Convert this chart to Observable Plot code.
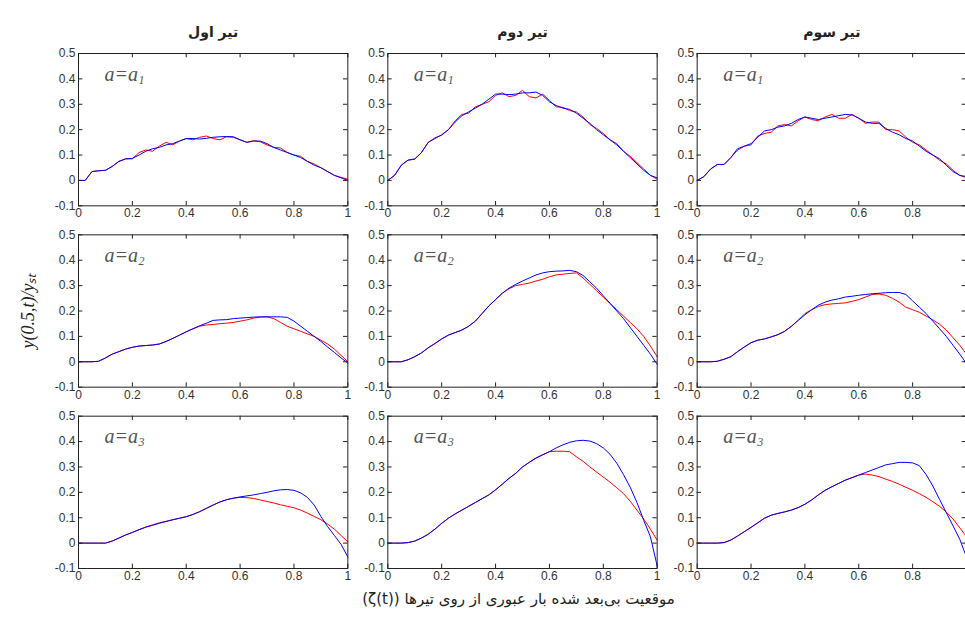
<!DOCTYPE html>
<html><head><meta charset="utf-8">
<script src="https://cdn.jsdelivr.net/npm/d3@7"></script>
<script src="https://cdn.jsdelivr.net/npm/@observablehq/plot@0.6"></script>
<style>
html,body{margin:0;padding:0;background:#fff;}
#chart{width:965px;height:617px;overflow:hidden;}
</style></head><body><div id="chart"></div>
<script>
const beams = ["تیر اول", "تیر دوم", "تیر سوم"];
const cases = ["a1", "a2", "a3"];
const caseSub = ["1", "2", "3"];
const xLabel = "موقعیت بی‌بعد شده بار عبوری از روی تیرها (ζ(t))";
const yLabel = "y(0.5,t)/yₛₜ";
const xTicks = [0, 0.2, 0.4, 0.6, 0.8, 1];
const xTickLabels = ["0", "0.2", "0.4", "0.6", "0.8", "1"];
const yTicks = [-0.1, 0, 0.1, 0.2, 0.3, 0.4, 0.5];
const yTickLabels = ["-0.1", "0", "0.1", "0.2", "0.3", "0.4", "0.5"];

const zeta = [0,0.025,0.05,0.075,0.1,0.125,0.15,0.175,0.2,0.225,0.25,0.275,0.3,0.325,0.35,0.375,0.4,0.425,0.45,0.475,0.5,0.525,0.55,0.575,0.6,0.625,0.65,0.675,0.7,0.725,0.75,0.775,0.8,0.825,0.85,0.875,0.9,0.925,0.95,0.975,1];

// row a1
const blueB1A1 = [0,0,0.035,0.038,0.04,0.055,0.075,0.085,0.087,0.1,0.115,0.125,0.13,0.14,0.145,0.155,0.165,0.165,0.163,0.166,0.17,0.172,0.173,0.172,0.16,0.15,0.155,0.155,0.145,0.13,0.12,0.11,0.1,0.09,0.075,0.06,0.05,0.035,0.02,0.01,0];
const redB1A1  = [0,0,0.035,0.038,0.04,0.055,0.075,0.085,0.085,0.11,0.12,0.115,0.135,0.15,0.14,0.155,0.165,0.16,0.17,0.175,0.165,0.16,0.172,0.17,0.16,0.15,0.157,0.152,0.14,0.13,0.128,0.11,0.1,0.095,0.075,0.065,0.05,0.035,0.02,0.012,0.005];
const blueB2A1 = [0,0.02,0.06,0.08,0.085,0.11,0.15,0.165,0.18,0.2,0.23,0.255,0.27,0.285,0.3,0.32,0.34,0.34,0.338,0.34,0.345,0.345,0.348,0.335,0.31,0.295,0.285,0.28,0.265,0.245,0.225,0.2,0.18,0.16,0.14,0.115,0.09,0.065,0.04,0.02,0.01];
const redB2A1  = [0,0.02,0.06,0.08,0.083,0.11,0.15,0.168,0.178,0.2,0.235,0.26,0.265,0.29,0.3,0.31,0.335,0.345,0.33,0.335,0.355,0.33,0.325,0.34,0.315,0.29,0.288,0.275,0.27,0.25,0.22,0.205,0.185,0.16,0.145,0.115,0.095,0.07,0.045,0.02,0.005];
const blueB3A1 = [0,0.015,0.045,0.063,0.063,0.09,0.125,0.135,0.145,0.17,0.195,0.2,0.21,0.215,0.225,0.24,0.25,0.245,0.24,0.245,0.25,0.255,0.26,0.258,0.245,0.23,0.225,0.225,0.205,0.19,0.18,0.165,0.155,0.135,0.115,0.1,0.085,0.06,0.035,0.02,0.015];
const redB3A1  = [0,0.015,0.045,0.063,0.063,0.09,0.12,0.135,0.14,0.175,0.185,0.19,0.215,0.22,0.215,0.235,0.25,0.24,0.235,0.25,0.26,0.245,0.245,0.26,0.245,0.225,0.23,0.23,0.2,0.2,0.195,0.17,0.15,0.14,0.12,0.1,0.08,0.065,0.04,0.02,0.01];
// row a2
const blueB1A2 = [0,0,0,0.002,0.015,0.03,0.04,0.05,0.057,0.062,0.064,0.066,0.07,0.08,0.092,0.105,0.118,0.13,0.142,0.152,0.163,0.165,0.166,0.17,0.172,0.174,0.176,0.177,0.177,0.177,0.177,0.175,0.16,0.14,0.12,0.1,0.08,0.058,0.037,0.015,-0.005];
const redB1A2  = [0,0,0,0.002,0.015,0.03,0.04,0.05,0.057,0.062,0.064,0.066,0.07,0.08,0.092,0.105,0.118,0.13,0.14,0.145,0.147,0.15,0.152,0.155,0.16,0.165,0.172,0.176,0.177,0.17,0.155,0.14,0.13,0.12,0.11,0.1,0.085,0.07,0.05,0.025,0];
const blueB2A2 = [0,0,0,0.008,0.02,0.035,0.055,0.072,0.09,0.105,0.115,0.125,0.14,0.16,0.19,0.22,0.245,0.27,0.29,0.305,0.318,0.33,0.342,0.35,0.355,0.357,0.358,0.36,0.355,0.34,0.315,0.29,0.26,0.23,0.2,0.17,0.135,0.1,0.065,0.03,-0.01];
const redB2A2  = [0,0,0,0.008,0.02,0.035,0.055,0.072,0.09,0.105,0.115,0.125,0.14,0.16,0.19,0.22,0.245,0.27,0.288,0.3,0.305,0.31,0.318,0.325,0.335,0.342,0.345,0.348,0.35,0.33,0.305,0.28,0.255,0.23,0.205,0.18,0.155,0.13,0.1,0.062,0.02];
const blueB3A2 = [0,0,0,0.002,0.01,0.02,0.04,0.058,0.075,0.085,0.09,0.098,0.107,0.12,0.14,0.163,0.185,0.205,0.223,0.235,0.243,0.248,0.255,0.258,0.262,0.265,0.268,0.27,0.272,0.273,0.273,0.265,0.24,0.215,0.19,0.16,0.13,0.1,0.065,0.03,-0.007];
const redB3A2  = [0,0,0,0.002,0.01,0.02,0.04,0.058,0.075,0.085,0.09,0.098,0.107,0.12,0.14,0.163,0.19,0.205,0.218,0.225,0.228,0.23,0.232,0.238,0.245,0.255,0.265,0.267,0.262,0.25,0.235,0.215,0.205,0.195,0.18,0.165,0.148,0.125,0.095,0.065,0.03];
// row a3
const blueB1A3 = [0,0,0,0,0,0.008,0.02,0.032,0.042,0.053,0.063,0.07,0.078,0.085,0.092,0.098,0.104,0.113,0.124,0.137,0.15,0.162,0.171,0.177,0.182,0.186,0.19,0.195,0.2,0.206,0.21,0.211,0.208,0.198,0.18,0.15,0.105,0.065,0.03,-0.005,-0.055];
const redB1A3  = [0,0,0,0,0,0.008,0.02,0.032,0.042,0.053,0.063,0.072,0.08,0.086,0.092,0.098,0.104,0.113,0.124,0.137,0.15,0.162,0.171,0.177,0.18,0.179,0.176,0.17,0.164,0.158,0.151,0.145,0.139,0.13,0.118,0.105,0.092,0.075,0.055,0.03,0.005];
const blueB2A3 = [0,0,0,0.002,0.008,0.02,0.035,0.055,0.078,0.098,0.115,0.13,0.145,0.16,0.175,0.19,0.21,0.232,0.255,0.275,0.3,0.318,0.335,0.348,0.36,0.375,0.387,0.397,0.403,0.405,0.402,0.392,0.375,0.35,0.315,0.27,0.22,0.16,0.09,0.025,-0.09];
const redB2A3  = [0,0,0,0.002,0.008,0.02,0.035,0.055,0.078,0.098,0.115,0.13,0.145,0.16,0.175,0.19,0.21,0.232,0.255,0.275,0.3,0.318,0.335,0.348,0.36,0.362,0.362,0.36,0.34,0.322,0.3,0.28,0.26,0.24,0.218,0.195,0.165,0.13,0.095,0.055,0.012];
const blueB3A3 = [0,0,0,0,0.002,0.012,0.028,0.045,0.062,0.08,0.098,0.11,0.117,0.123,0.13,0.14,0.153,0.17,0.19,0.208,0.222,0.235,0.248,0.258,0.268,0.278,0.288,0.298,0.308,0.313,0.318,0.318,0.316,0.305,0.27,0.225,0.172,0.12,0.068,0.015,-0.055];
const redB3A3  = [0,0,0,0,0.002,0.012,0.028,0.045,0.062,0.08,0.098,0.11,0.117,0.123,0.13,0.14,0.153,0.17,0.19,0.208,0.222,0.235,0.248,0.258,0.268,0.272,0.268,0.262,0.252,0.243,0.232,0.22,0.208,0.195,0.18,0.163,0.145,0.122,0.095,0.06,0.025];

const panels = [
  [0, 0, blueB1A1, redB1A1], [1, 0, blueB2A1, redB2A1], [2, 0, blueB3A1, redB3A1],
  [0, 1, blueB1A2, redB1A2], [1, 1, blueB2A2, redB2A2], [2, 1, blueB3A2, redB3A2],
  [0, 2, blueB1A3, redB1A3], [1, 2, blueB2A3, redB2A3], [2, 2, blueB3A3, redB3A3]
];

const blueRows = [], redRows = [];
for (const [b, r, blue, red] of panels) {
  zeta.forEach((x, k) => {
    blueRows.push({beam: beams[b], kase: cases[r], x, y: blue[k]});
    redRows.push({beam: beams[b], kase: cases[r], x, y: red[k]});
  });
}
const labelRows = [];
for (const b of beams) cases.forEach((c, i) => labelRows.push({beam: b, kase: c, sub: caseSub[i]}));

// x tick labels per panel; the last column's "1" falls outside the picture in the reference
const xLabelRows = [];
beams.forEach((b, bi) => cases.forEach(c => xTicks.forEach((t, i) => {
  if (bi === 2 && t === 1) return;
  xLabelRows.push({beam: b, kase: c, x: t, label: xTickLabels[i]});
})));

const serif = "'Liberation Serif', 'Times New Roman', serif";

const chart = Plot.plot({
  width: 965, height: 617,
  marginLeft: 78, marginRight: -1, marginTop: 53, marginBottom: 49,
  x: {domain: [0, 1], axis: null},
  y: {domain: [-0.1, 0.5], axis: null},
  fx: {domain: beams, padding: 0.1293, axis: null, round: false},
  fy: {domain: cases, padding: 0.16, axis: null, round: false},
  style: {fontFamily: "'Liberation Sans', Arial, sans-serif", fontSize: "12px", background: "#fff", color: "#333"},
  marks: [
    Plot.line(redRows, {x: "x", y: "y", fx: "beam", fy: "kase", stroke: "#ff0000", strokeWidth: 1}),
    Plot.line(blueRows, {x: "x", y: "y", fx: "beam", fy: "kase", stroke: "#0000ff", strokeWidth: 1}),
    Plot.frame({stroke: "#222", strokeWidth: 1}),
    Plot.tickX(xTicks, {x: d => d, insetBottom: 148, stroke: "#222"}),
    Plot.tickX(xTicks, {x: d => d, insetTop: 148, stroke: "#222"}),
    Plot.tickY(yTicks, {y: d => d, insetRight: 265, stroke: "#222"}),
    Plot.tickY(yTicks, {y: d => d, insetLeft: 265, stroke: "#222"}),
    Plot.text(xLabelRows, {x: "x", fx: "beam", fy: "kase", text: "label", frameAnchor: "bottom", lineAnchor: "top", dy: 3, fill: "#333", fontSize: 12}),
    Plot.text(yTicks, {y: d => d, text: (d, i) => yTickLabels[i], frameAnchor: "left", textAnchor: "end", dx: -3, fill: "#333", fontSize: 12}),
    Plot.text(labelRows, {fx: "beam", fy: "kase", text: () => "a=a", frameAnchor: "top-left", textAnchor: "start", lineAnchor: "bottom", dx: 26, dy: 27, fontFamily: serif, fontStyle: "italic", fontSize: 20, fill: "#555"}),
    Plot.text(labelRows, {fx: "beam", fy: "kase", text: "sub", frameAnchor: "top-left", textAnchor: "start", lineAnchor: "bottom", dx: 60, dy: 30, fontFamily: serif, fontStyle: "italic", fontSize: 12, fill: "#555"}),
    Plot.text(beams, {fx: d => d, fy: () => cases[0], text: d => d, frameAnchor: "top", dy: -26, fontFamily: "'DejaVu Sans', sans-serif", fontWeight: "bold", fontSize: 14, fill: "#222"}),
    Plot.text([yLabel], {fx: () => beams[0], fy: () => cases[1], text: d => d, frameAnchor: "left", textAnchor: "middle", dx: -50, rotate: -90, fontFamily: serif, fontStyle: "italic", fontSize: 18, fill: "#222"}),
    Plot.text([xLabel], {fx: () => beams[1], fy: () => cases[2], text: d => "\u202B" + d + "\u202C", frameAnchor: "bottom", dy: 35, dx: -4, fontFamily: "'DejaVu Sans', sans-serif", fontSize: 15, fill: "#222"})
  ]
});
document.getElementById("chart").appendChild(chart);
</script>
</body></html>
